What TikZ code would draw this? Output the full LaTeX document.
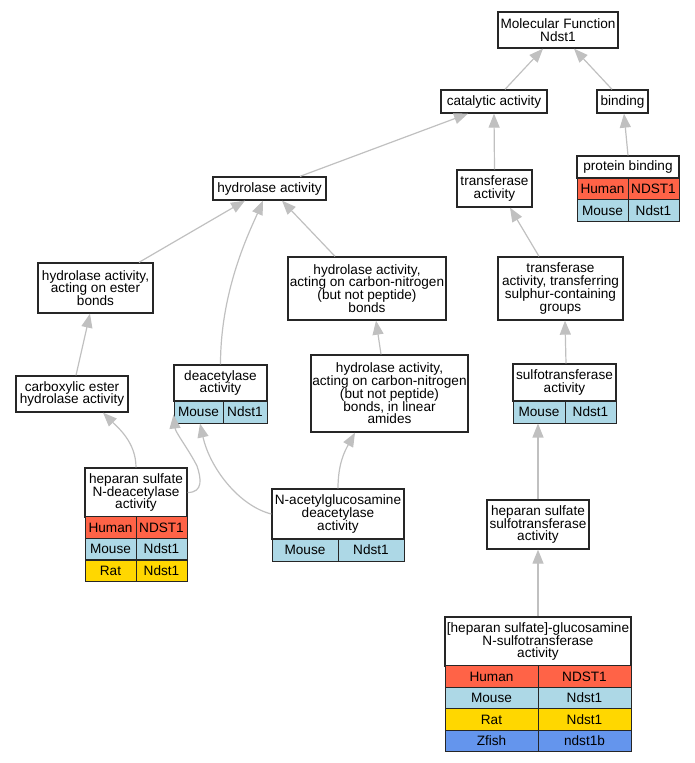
\documentclass[tikz,border=0pt]{standalone}
\usepackage{fontspec}
\setmainfont{Liberation Sans}
\usetikzlibrary{arrows.meta}

\definecolor{human}{RGB}{255,99,71}
\definecolor{mouse}{RGB}{173,216,230}
\definecolor{rat}{RGB}{255,215,0}
\definecolor{zfish}{RGB}{100,149,237}
\definecolor{edgegray}{RGB}{192,192,192}

\begin{document}
\begin{tikzpicture}[x=1pt, y=-1pt,
  term/.style={draw=black!85, line width=1.3pt, fill=white, align=center, inner sep=0pt,
    font=\fontsize{13.6}{12.8}\selectfont},
  cell/.style={draw=black!85, line width=1pt, inner sep=0pt, minimum height=21.5pt,
    font=\fontsize{13.6}{12.8}\selectfont},
  isa/.style={draw=edgegray, line width=1.2pt, -{Triangle[length=14pt, width=11pt, fill=edgegray]}}]
  \useasboundingbox (0,0) rectangle (695,763);

  % plain terms
  \node[term, minimum width=120pt, minimum height=36pt] (mf) at (558,30) {Molecular Function\\Ndst1};
  \node[term, minimum width=106pt, minimum height=23pt] (cat) at (494,101.5) {catalytic activity};
  \node[term, minimum width=51pt, minimum height=23pt] (bind) at (622.5,101.5) {binding};
  \node[term, minimum width=113pt, minimum height=23pt] (hyd) at (269.5,188.5) {hydrolase activity};
  \node[term, minimum width=75pt, minimum height=37pt] (trans) at (494.5,188.5) {transferase\\activity};
  \node[term, minimum width=115pt, minimum height=50pt] (ester) at (95.5,288) {hydrolase activity,\\acting on ester\\bonds};
  \node[term, minimum width=158pt, minimum height=63pt] (cn) at (367,288.5) {hydrolase activity,\\acting on carbon-nitrogen\\(but not peptide)\\bonds};
  \node[term, minimum width=125pt, minimum height=63pt] (sulph) at (560.5,288.5) {transferase\\activity, transferring\\sulphur-containing\\groups};
  \node[term, minimum width=112pt, minimum height=36pt] (carb) at (72,394) {carboxylic ester\\hydrolase activity};
  \node[term, minimum width=157pt, minimum height=77pt] (amides) at (389.5,393.5) {hydrolase activity,\\acting on carbon-nitrogen\\(but not peptide)\\bonds, in linear\\amides};
  \node[term, minimum width=102pt, minimum height=49pt] (hssulfo) at (538,524.5) {heparan sulfate\\sulfotransferase\\activity};

  % protein binding
  \node[term, minimum width=102pt, minimum height=22pt] (prot) at (628,167) {protein binding};
  \node[cell, fill=human, minimum width=51pt, minimum height=22pt] (protHs) at (602.5,189) {Human};
  \node[cell, fill=human, minimum width=51pt, minimum height=22pt] (protHsg) at (653.5,189) {NDST1};
  \node[cell, fill=mouse, minimum width=51pt] (protMm) at (602.5,210.5) {Mouse};
  \node[cell, fill=mouse, minimum width=51pt] (protMmg) at (653.5,210.5) {Ndst1};

  % deacetylase activity
  \node[term, minimum width=93pt, minimum height=36pt] (deac) at (220.5,383) {deacetylase\\activity};
  \node[cell, fill=mouse, minimum width=49pt, minimum height=22pt] (deacMm) at (198.5,412) {Mouse};
  \node[cell, fill=mouse, minimum width=44pt, minimum height=22pt] (deacMmg) at (245,412) {Ndst1};

  % sulfotransferase activity
  \node[term, minimum width=103pt, minimum height=37pt] (sulfo) at (564.5,382.5) {sulfotransferase\\activity};
  \node[cell, fill=mouse, minimum width=52pt, minimum height=22pt] (sulfoMm) at (539,412) {Mouse};
  \node[cell, fill=mouse, minimum width=51pt, minimum height=22pt] (sulfoMmg) at (590.5,412) {Ndst1};

  % heparan sulfate N-deacetylase activity
  \node[term, minimum width=102pt, minimum height=49pt] (hsdeac) at (136,492.5) {heparan sulfate\\N-deacetylase\\activity};
  \node[cell, fill=human, minimum width=51pt] (hsdeacHs) at (110.5,527.5) {Human};
  \node[cell, fill=human, minimum width=51pt] (hsdeacHsg) at (161.5,527.5) {NDST1};
  \node[cell, fill=mouse, minimum width=51pt] (hsdeacMm) at (110.5,549) {Mouse};
  \node[cell, fill=mouse, minimum width=51pt] (hsdeacMmg) at (161.5,549) {Ndst1};
  \node[cell, fill=rat, minimum width=51pt] (hsdeacRn) at (110.5,571) {Rat};
  \node[cell, fill=rat, minimum width=51pt] (hsdeacRng) at (161.5,571) {Ndst1};

  % N-acetylglucosamine deacetylase activity
  \node[term, minimum width=132pt, minimum height=50pt] (nacetyl) at (338,514) {N-acetylglucosamine\\deacetylase\\activity};
  \node[cell, fill=mouse, minimum width=66pt, minimum height=22pt] (nacetylMm) at (305,550) {Mouse};
  \node[cell, fill=mouse, minimum width=66pt, minimum height=22pt] (nacetylMmg) at (371,550) {Ndst1};

  % [heparan sulfate]-glucosamine N-sulfotransferase activity
  \node[term, minimum width=186pt, minimum height=49pt] (glcn) at (538,641.5) {[heparan sulfate]-glucosamine\\N-sulfotransferase\\activity};
  \node[cell, fill=human, minimum width=93pt] (glcnHs) at (491.5,676.5) {Human};
  \node[cell, fill=human, minimum width=93pt] (glcnHsg) at (584.5,676.5) {NDST1};
  \node[cell, fill=mouse, minimum width=93pt] (glcnMm) at (491.5,698) {Mouse};
  \node[cell, fill=mouse, minimum width=93pt] (glcnMmg) at (584.5,698) {Ndst1};
  \node[cell, fill=rat, minimum width=93pt] (glcnRn) at (491.5,719.5) {Rat};
  \node[cell, fill=rat, minimum width=93pt] (glcnRng) at (584.5,719.5) {Ndst1};
  \node[cell, fill=zfish, minimum width=93pt] (glcnDr) at (491.5,741) {Zfish};
  \node[cell, fill=zfish, minimum width=93pt] (glcnDrg) at (584.5,741) {ndst1b};

  % is_a links
  \draw[isa] ([xshift=11pt]cat.north) -- ([xshift=-15pt]mf.south);
  \draw[isa] ([xshift=-10.5pt]bind.north) -- ([xshift=16pt]mf.south);
  \draw[isa] (prot.north) -- ([xshift=1.5pt]bind.south);
  \draw[isa] ([xshift=30.5pt]hyd.north) -- ([xshift=-26pt]cat.south);
  \draw[isa] (trans.north) -- (cat.south);
  \draw[isa] ([xshift=43.5pt]ester.north) -- ([xshift=-24.5pt]hyd.south);
  \draw[isa] (deac.north) .. controls +(0,-75) and +(-13,30) .. ([xshift=-6.5pt]hyd.south);
  \draw[isa] ([xshift=-32pt]cn.north) -- ([xshift=12.5pt]hyd.south);
  \draw[isa] ([xshift=-21.5pt]sulph.north) -- ([xshift=15.5pt]trans.south);
  \draw[isa] ([xshift=4pt]carb.north) -- ([xshift=-5.5pt]ester.south);
  \draw[isa] ([xshift=-8.5pt]amides.north) -- ([xshift=9pt]cn.south);
  \draw[isa] ([xshift=1.5pt]sulfo.north) -- ([xshift=4.5pt]sulph.south);
  \draw[isa] (hsdeac.north) .. controls +(0,-25) and +(15,15) .. ([xshift=31pt]carb.south);
  \draw[isa] (hsdeac.east) .. controls +(16,0) and +(4,12) .. (197,466)
    .. controls +(-8,-16) and +(2,18) .. ([yshift=9pt]deacMm.south west);
  \draw[isa] (nacetyl.west) .. controls +(-32,-8) and +(10,45) .. ([xshift=1.5pt]deacMm.south);
  \draw[isa] (nacetyl.north) .. controls +(0,-25) and +(-10,18) .. ([xshift=-34.5pt]amides.south);
  \draw[isa] (hssulfo.north) -- ([xshift=-1pt]sulfoMm.south);
  \draw[isa] (glcn.north) -- (hssulfo.south);
\end{tikzpicture}
\end{document}
